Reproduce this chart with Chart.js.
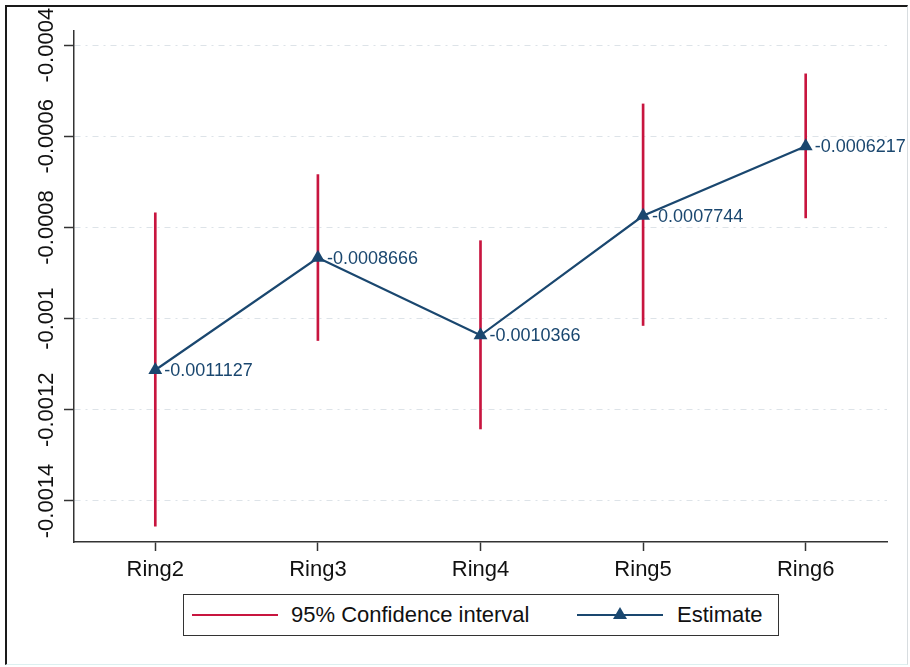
<!DOCTYPE html>
<html>
<head>
<meta charset="utf-8">
<script src="https://cdn.jsdelivr.net/npm/chart.js@4.4.1/dist/chart.umd.min.js"></script>
<style>
  body { margin: 0; background: #fff; font-family: "Liberation Sans", Arial, sans-serif; }
  #wrap { position: relative; width: 910px; height: 667px; overflow: hidden; }
  #frame {
    position: absolute; left: 5px; top: 5px; width: 903px; height: 660px;
    border-left: 2px solid #1a1a1a; border-top: 2px solid #1a1a1a;
    border-right: 1px solid #d8dde0; border-bottom: 1px solid #dcf0f0;
    box-sizing: border-box; pointer-events: none;
  }
  #legend {
    position: absolute; left: 183px; top: 594px; width: 596px; height: 42px;
    border: 1.5px solid #333; box-sizing: border-box; background: #fff;
    font-size: 22px; color: #111;
  }
  #legend .item { position: absolute; top: 0; height: 39px; line-height: 39px; }
  #legend svg { position: absolute; top: 0; }
</style>
</head>
<body>
<div id="wrap">
  <canvas id="chart" width="910" height="667"></canvas>
  <div id="frame"></div>
  <div id="legend">
    <svg width="100" height="40" style="left:8px"><line x1="0" y1="20" x2="86" y2="20" stroke="#c8153f" stroke-width="2"/></svg>
    <span class="item" style="left:107px">95% Confidence interval</span>
    <svg width="100" height="40" style="left:393px"><line x1="0" y1="20" x2="86" y2="20" stroke="#1a476f" stroke-width="2"/><polygon points="43,12 50,24 36,24" fill="#1a476f"/></svg>
    <span class="item" style="left:493px">Estimate</span>
  </div>
</div>
<script>
// categories and values
const rings = ['Ring2', 'Ring3', 'Ring4', 'Ring5', 'Ring6'];
const estimate = [-0.0011127, -0.0008666, -0.0010366, -0.0007744, -0.0006217];
const estimateLabels = ['-0.0011127', '-0.0008666', '-0.0010366', '-0.0007744', '-0.0006217'];
const ciLow = [-0.001455, -0.001048, -0.001242, -0.001015, -0.000779];
const ciHigh = [-0.000768, -0.000684, -0.000829, -0.000529, -0.000463];
const yTicks = [-0.0014, -0.0012, -0.001, -0.0008, -0.0006, -0.0004];
const yTickLabels = ['-0.0014', '-0.0012', '-0.001', '-0.0008', '-0.0006', '-0.0004'];

const NAVY = '#1a476f';
const RED = '#c8153f';
const FONT = '"Liberation Sans", Arial, sans-serif';

// y tick labels are rotated, Stata style
const rotatedYLabels = {
    id: 'rotatedYLabels',
    afterDraw(chart) {
        const ctx = chart.ctx;
        const y = chart.scales.y;
        ctx.save();
        ctx.font = '22px ' + FONT;
        ctx.fillStyle = '#111';
        ctx.textAlign = 'center';
        ctx.textBaseline = 'middle';
        yTicks.forEach((v, i) => {
            ctx.save();
            ctx.translate(47, y.getPixelForValue(v));
            ctx.rotate(-Math.PI / 2);
            ctx.fillText(yTickLabels[i], 0, 0);
            ctx.restore();
        });
        ctx.restore();
    }
};

// value labels to the right of each marker
const pointLabels = {
    id: 'pointLabels',
    afterDatasetsDraw(chart) {
        const ctx = chart.ctx;
        const meta = chart.getDatasetMeta(0);
        ctx.save();
        ctx.font = '18px ' + FONT;
        ctx.fillStyle = NAVY;
        ctx.textAlign = 'left';
        ctx.textBaseline = 'middle';
        meta.data.forEach((pt, i) => {
            ctx.fillText(estimateLabels[i], pt.x + 9, pt.y + 1);
        });
        ctx.restore();
    }
};

new Chart(document.getElementById('chart'), {
    data: {
        labels: rings,
        datasets: [
            {
                type: 'line',
                label: 'Estimate',
                data: estimate,
                borderColor: NAVY,
                backgroundColor: NAVY,
                borderWidth: 2.2,
                tension: 0,
                pointStyle: 'triangle',
                pointRadius: 8,
                pointBorderWidth: 0,
                order: 1
            },
            {
                type: 'bar',
                label: '95% Confidence interval',
                data: ciLow.map((lo, i) => [lo, ciHigh[i]]),
                backgroundColor: RED,
                borderWidth: 0,
                barThickness: 2,
                order: 2
            }
        ]
    },
    options: {
        responsive: false,
        animation: false,
        devicePixelRatio: 1,
        layout: { padding: { top: 31, right: 23, bottom: 80, left: 0 } },
        plugins: {
            legend: { display: false },
            tooltip: { enabled: false }
        },
        scales: {
            x: {
                offset: true,
                grid: {
                    offset: false,
                    drawOnChartArea: false,
                    drawTicks: true,
                    tickLength: 9,
                    tickColor: '#333',
                    tickWidth: 1.5
                },
                border: { display: true, color: '#333', width: 1.5 },
                ticks: {
                    color: '#111',
                    padding: 6,
                    font: { size: 22, family: FONT }
                },
                afterFit: s => { s.height = 45; }
            },
            y: {
                min: -0.00149,
                max: -0.000369,
                afterBuildTicks: s => { s.ticks = yTicks.map(v => ({ value: v })); },
                afterFit: s => { s.width = 74; },
                ticks: { display: false },
                grid: {
                    color: '#dde3e8',
                    lineWidth: 1,
                    drawTicks: true,
                    tickLength: 10,
                    tickColor: '#333',
                    tickWidth: 1.5,
                    tickBorderDash: []
                },
                border: { display: true, color: '#333', width: 1.5, dash: [6, 5, 2, 5] }
            }
        }
    },
    plugins: [rotatedYLabels, pointLabels]
});
</script>
</body>
</html>
